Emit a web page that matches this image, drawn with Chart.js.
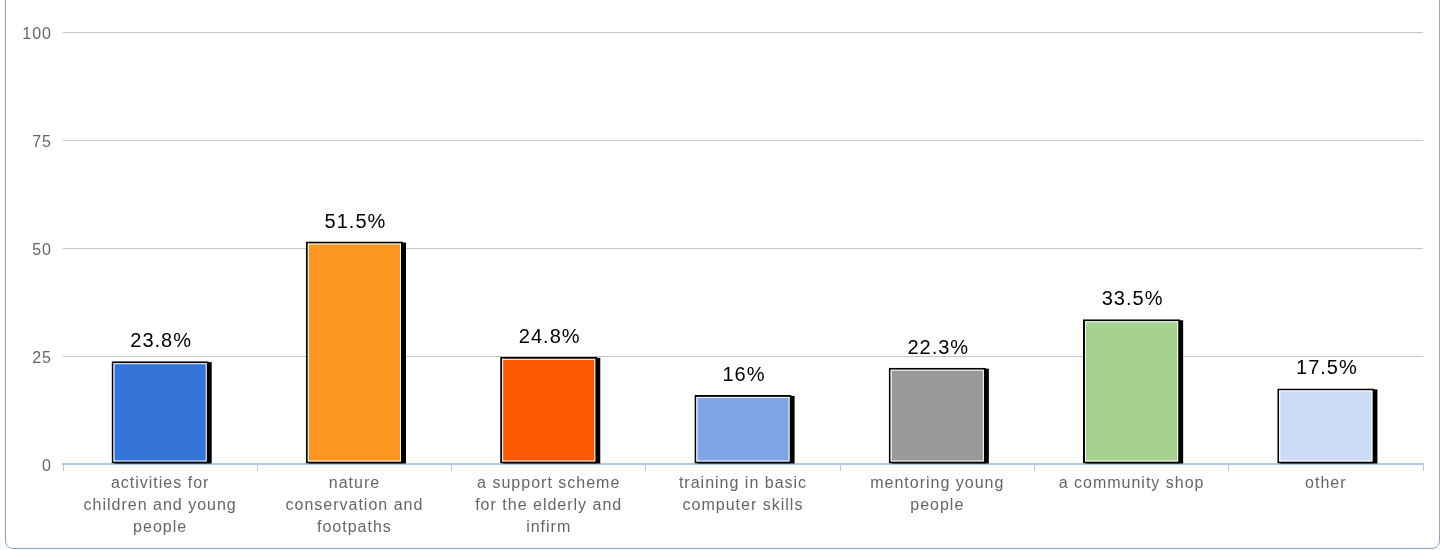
<!DOCTYPE html>
<html>
<head>
<meta charset="utf-8">
<script src="https://cdn.jsdelivr.net/npm/chart.js@4/dist/chart.umd.min.js"></script>
<style>
  html, body { margin: 0; padding: 0; background: #fff; overflow: hidden; }
  #wrap { position: relative; width: 1443px; height: 550px; }
  #frame {
    position: absolute; left: 5px; top: -12px; width: 1435px; height: 561px;
    border: 1px solid #87a3d0; border-radius: 8px; box-sizing: border-box;
  }
  canvas { position: absolute; left: 0; top: 0; }
</style>
</head>
<body>
<div id="wrap">
  <div id="frame"></div>
  <canvas id="chart" width="1443" height="550"></canvas>
</div>
<script>
const categories = [
  ['activities for', 'children and young', 'people'],
  ['nature', 'conservation and', 'footpaths'],
  ['a support scheme', 'for the elderly and', 'infirm'],
  ['training in basic', 'computer skills'],
  ['mentoring young', 'people'],
  ['a community shop'],
  ['other']
];
const values = [23.8, 51.5, 24.8, 16, 22.3, 33.5, 17.5];
const valueLabels = ['23.8%', '51.5%', '24.8%', '16%', '22.3%', '33.5%', '17.5%'];
const barColors = ['#3574d9', '#fd961f', '#fd5903', '#7fa5e6', '#999999', '#a6d18e', '#ccdcf5'];
const yTicks = [0, 25, 50, 75, 100];

const FONT = '"Liberation Sans", Arial, sans-serif';

// the reference text is a bit spread out
const spacing = {
  id: 'spacing',
  beforeLayout(chart) { chart.ctx.letterSpacing = '1px'; },
  beforeDraw(chart) { chart.ctx.letterSpacing = '1px'; }
};

// shadow + white inner line + value labels
const barStyle = {
  id: 'barStyle',
  beforeDatasetsDraw(chart) {
    const ctx = chart.ctx;
    ctx.save();
    ctx.fillStyle = '#000';
    chart.getDatasetMeta(0).data.forEach(bar => {
      const w = bar.width;
      ctx.fillRect(bar.x - w / 2 + 3, bar.y + 1, w, bar.base - bar.y - 1);
    });
    ctx.restore();
  },
  afterDatasetsDraw(chart) {
    const ctx = chart.ctx;
    ctx.save();
    chart.getDatasetMeta(0).data.forEach((bar, i) => {
      const w = bar.width;
      ctx.strokeStyle = '#fff';
      ctx.lineWidth = 1;
      ctx.strokeRect(bar.x - w / 2 + 2.5, bar.y + 2.5, w - 5, bar.base - bar.y - 5);
      ctx.fillStyle = '#000';
      ctx.font = '20px ' + FONT;
      ctx.letterSpacing = '1px';
      ctx.textAlign = 'center';
      ctx.textBaseline = 'alphabetic';
      ctx.fillText(valueLabels[i], bar.x + 1, bar.y - 14);
    });
    ctx.restore();
  }
};

new Chart(document.getElementById('chart'), {
  type: 'bar',
  data: {
    labels: categories,
    datasets: [{
      data: values,
      backgroundColor: barColors,
      borderColor: '#000',
      borderWidth: 2,
      borderSkipped: false,
      barPercentage: 0.5,
      categoryPercentage: 1
    }]
  },
  options: {
    responsive: false,
    animation: false,
    devicePixelRatio: 1,
    layout: { padding: { top: 32, right: 20, left: 0, bottom: 0 } },
    plugins: { legend: { display: false }, tooltip: { enabled: false } },
    scales: {
      x: {
        offset: true,
        grid: {
          offset: true,
          drawOnChartArea: false,
          drawTicks: true,
          tickLength: 7,
          color: '#b4c8e4'
        },
        border: { display: true, color: '#b4c8e4', width: 2 },
        ticks: {
          color: '#666',
          font: { family: FONT, size: 16, lineHeight: 1.4 },
          padding: 1,
          maxRotation: 0,
          autoSkip: false
        },
        afterFit(scale) { scale.height = 86; }
      },
      y: {
        min: 0,
        max: 100,
        afterBuildTicks(scale) { scale.ticks = yTicks.map(v => ({ value: v })); },
        grid: { color: '#c6c6c6', drawTicks: false, lineWidth: 1 },
        border: { display: false },
        ticks: {
          color: '#666',
          font: { family: FONT, size: 16 },
          padding: 11,
          labelOffset: 3
        },
        afterFit(scale) { scale.width = 63; }
      }
    }
  },
  plugins: [spacing, barStyle]
});
</script>
</body>
</html>
